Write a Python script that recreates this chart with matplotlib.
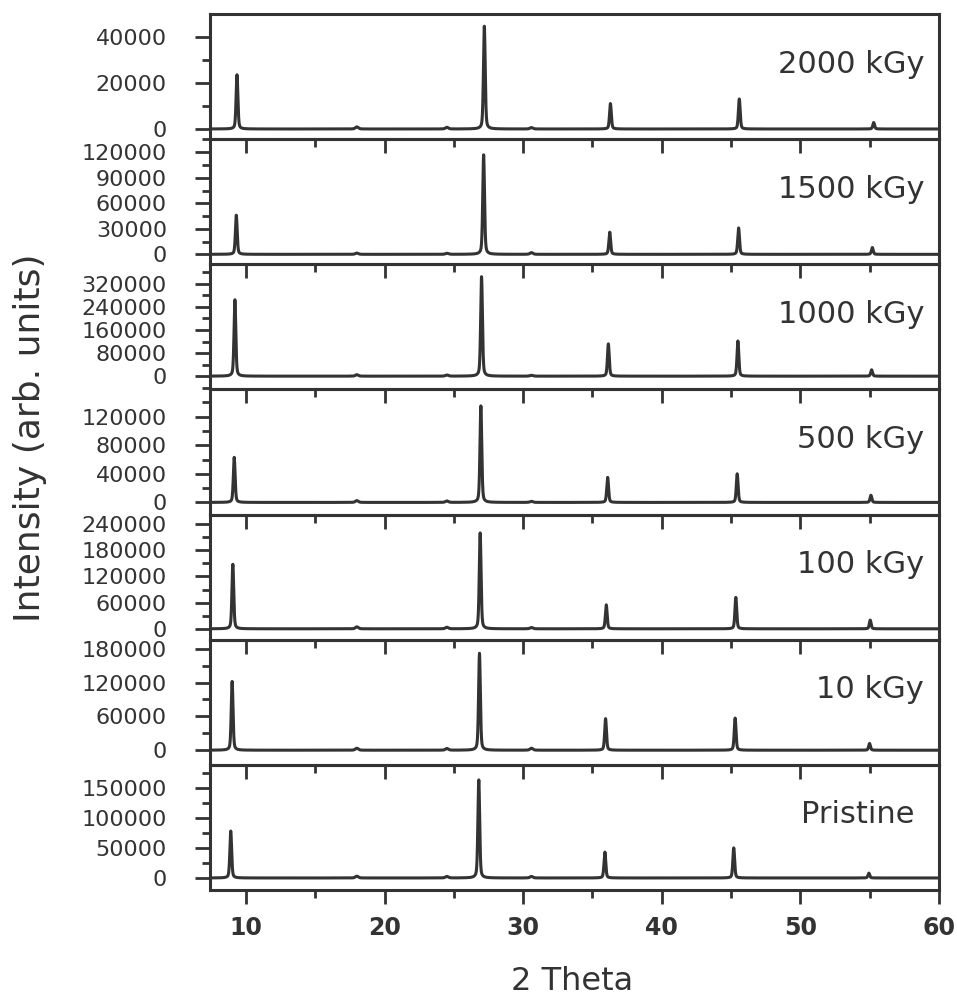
import numpy as np
import matplotlib
matplotlib.use("Agg")
import matplotlib.pyplot as plt
from matplotlib.ticker import MultipleLocator

# samples, top panel first
labels = ["2000 kGy", "1500 kGy", "1000 kGy", "500 kGy", "100 kGy", "10 kGy", "Pristine"]

# main reflections (2 theta)
pos_2000 = [9.35, 27.2, 36.3, 45.6, 55.3]
pos_1500 = [9.3, 27.15, 36.25, 45.55, 55.2]
pos_1000 = [9.2, 27.0, 36.15, 45.5, 55.15]
pos_500 = [9.15, 26.95, 36.1, 45.45, 55.1]
pos_100 = [9.05, 26.9, 36.0, 45.35, 55.05]
pos_10 = [9.0, 26.85, 35.95, 45.3, 55.0]
pos_pristine = [8.9, 26.8, 35.9, 45.2, 54.95]

h_2000 = [23500, 44500, 11000, 13000, 2800]
h_1500 = [46000, 117000, 26000, 31000, 8000]
h_1000 = [265000, 345000, 112000, 122000, 22000]
h_500 = [63000, 135000, 35000, 40000, 10000]
h_100 = [148000, 220000, 55000, 72000, 20000]
h_10 = [122000, 172000, 56000, 57000, 12000]
h_pristine = [78000, 163000, 43000, 50000, 8000]

# weak reflections
minor_pos = [18.0, 24.5, 30.6]
mh_2000 = [900, 700, 600]
mh_1500 = [1500, 1200, 2000]
mh_1000 = [5000, 4000, 3000]
mh_500 = [2500, 2000, 1500]
mh_100 = [4500, 3500, 3000]
mh_10 = [3500, 3000, 3500]
mh_pristine = [3000, 2500, 2500]

# axis ranges and tick steps per panel
ylims = [(-4400, 49800), (-11700, 135400), (-46000, 388000), (-17000, 158000),
         (-25000, 262000), (-26000, 196000), (-20000, 188000)]
major_steps = [20000, 30000, 80000, 40000, 60000, 60000, 50000]

positions = [pos_2000, pos_1500, pos_1000, pos_500, pos_100, pos_10, pos_pristine]
heights = [h_2000, h_1500, h_1000, h_500, h_100, h_10, h_pristine]
minor_heights = [mh_2000, mh_1500, mh_1000, mh_500, mh_100, mh_10, mh_pristine]

col = "#333333"
tx = np.arange(7.4, 60.0, 0.01)


def profile(p, h, w):
    # pseudo-voigt peak
    g = np.exp(-4 * np.log(2) * ((tx - p) / w) ** 2)
    l = 1 / (1 + 4 * ((tx - p) / w) ** 2)
    return h * (0.6 * g + 0.4 * l)


fig = plt.figure(figsize=(9.57, 10), dpi=100)
axs = fig.subplots(7, 1, sharex=True, gridspec_kw=dict(hspace=0))
fig.subplots_adjust(left=0.2194, right=0.981, top=0.986, bottom=0.11)

for i, ax in enumerate(axs):
    y = np.zeros_like(tx)
    for p, h in zip(positions[i], heights[i]):
        y += profile(p, h, 0.15)
    for p, h in zip(minor_pos, minor_heights[i]):
        y += profile(p, h, 0.25)
    ax.plot(tx, y, color=col, lw=2.2)
    ax.set_facecolor("none")
    ax.set_xlim(7.4, 60)
    ax.set_ylim(*ylims[i])
    ax.yaxis.set_major_locator(MultipleLocator(major_steps[i]))
    ax.yaxis.set_minor_locator(MultipleLocator(major_steps[i] / 2))
    ax.xaxis.set_major_locator(MultipleLocator(10))
    ax.xaxis.set_minor_locator(MultipleLocator(5))
    ax.tick_params(axis="y", which="major", direction="out", length=11, width=2,
                   pad=20, labelsize=16, colors=col)
    ax.tick_params(axis="y", which="minor", direction="out", length=6, width=2, colors=col)
    ax.tick_params(axis="x", which="major", direction="out", length=10, width=2,
                   pad=9, labelsize=17, colors=col)
    ax.tick_params(axis="x", which="minor", direction="out", length=6, width=2, colors=col)
    for s in ax.spines.values():
        s.set_linewidth(2.2)
        s.set_color(col)
    ax.text(0.98 if i < 6 else 0.967, 0.6, labels[i], transform=ax.transAxes,
            ha="right", va="center", fontsize=22, color=col)

for lab in axs[-1].get_xticklabels():
    lab.set_fontweight("bold")

fig.text(0.031, 0.562, "Intensity (arb. units)", rotation=90, ha="center", va="center",
         fontsize=26, color=col)
fig.text(0.598, 0.019, "2 Theta", ha="center", va="center", fontsize=23, color=col)

fig.savefig("out.png", dpi=100)
